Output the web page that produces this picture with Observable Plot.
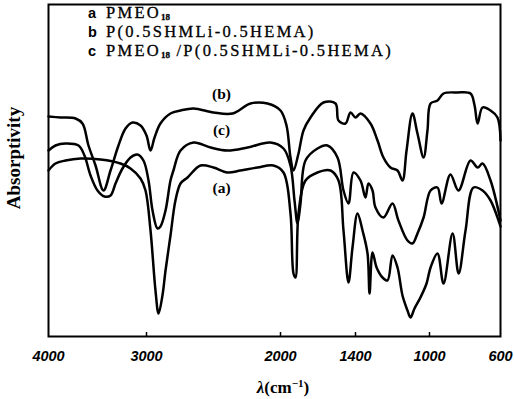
<!DOCTYPE html>
<html><head><meta charset="utf-8">
<script src="https://cdn.jsdelivr.net/npm/d3@7"></script>
<script src="https://cdn.jsdelivr.net/npm/@observablehq/plot@0.6"></script>
<style>body{margin:0;background:#fff} svg{display:block;background:#fff}</style>
</head><body><div id="chart"></div>
<script>
// wavenumbers (cm^-1) and relative absorptivity (arbitrary units)
const wnA = [4000,3929,3827,3673,3469,3265,3163,3061,3010,2970,2933,2910,2881,2858,2821,2784,2746,2694,2597,2500,2396,2299,2172,2052,1976,1920,1896,1880,1856,1800,1704,1600,1536,1496,1456,1424,1389,1362,1335,1324,1308,1286,1254,1227,1200,1173,1146,1119,1103,1081,1049,1016,994,955,921,870,836,797,752,701,656,611,600];
const vA  = [166,173,176,178,177,173,168,158,146,106,46,23,41,66,101,136,153,159,171,169,164,166,169,171,164,123,63,59,123,156,164,166,156,106,54,89,123,106,83,43,84,69,59,56,81,69,41,26,19,28,39,53,69,83,53,103,63,106,149,146,136,116,110];

const wnB = [4000,3878,3724,3653,3592,3520,3439,3367,3286,3214,3143,3061,3000,2970,2940,2896,2821,2746,2649,2500,2358,2224,2097,2000,1952,1920,1896,1856,1816,1760,1656,1560,1536,1480,1440,1400,1373,1319,1281,1249,1211,1173,1146,1124,1092,1065,1032,1011,994,955,921,842,769,746,729,701,656,617,600];
const vB  = [220,219,218,213,191,171,146,166,191,208,214,211,201,186,199,213,223,226,228,224,223,233,233,226,211,179,166,183,206,219,234,233,216,213,224,219,223,213,196,179,169,166,156,186,223,203,179,206,233,236,243,244,243,231,213,229,226,219,196];

const wnC = [4000,3929,3827,3694,3633,3571,3500,3429,3367,3316,3245,3163,3092,3031,2985,2955,2918,2896,2858,2821,2799,2746,2649,2522,2396,2246,2075,1976,1920,1888,1864,1840,1800,1704,1624,1544,1496,1456,1416,1373,1346,1330,1308,1292,1249,1200,1168,1119,1092,1065,1032,994,955,932,882,837,769,729,701,656,600];
const vC  = [186,191,193,191,181,161,146,140,141,153,168,179,182,176,156,126,108,110,126,156,166,186,194,189,186,189,194,188,171,136,113,133,176,188,191,179,146,133,164,156,139,153,146,129,119,133,116,96,93,103,119,146,149,133,162,146,176,169,173,156,116];

const tickValues = [4000,3000,2000,1400,1000,600];
const tickLabels = ["4000","3000","2000","1400","1000","600"];
const innerTicks = [3000,2000,1400,1000];

const curveLabels = ["(b)","(c)","(a)"];
const curveLabelWn = [2440,2440,2440];
const curveLabelV  = [242,206,148];

const legendKeys = ["a","b","c"];
const legendMain = [["PMEO","18",""],["P(0.5SHMLi-0.5HEMA)","",""],["PMEO","18"," /P(0.5SHMLi-0.5HEMA)"]];

const rows = [];
wnA.forEach((w,i)=>rows.push({s:"a",wn:w,v:vA[i]}));
wnB.forEach((w,i)=>rows.push({s:"b",wn:w,v:vB[i]}));
wnC.forEach((w,i)=>rows.push({s:"c",wn:w,v:vC[i]}));

const ticksData = innerTicks.map(t=>({wn:t}));
const tickLabelData = tickValues.map((t,i)=>({wn:t,label:tickLabels[i]}));
const labelData = curveLabels.map((l,i)=>({label:l,wn:curveLabelWn[i],v:curveLabelV[i]}));

const chart = Plot.plot({
  width: 514, height: 399,
  marginLeft: 48, marginRight: 14, marginTop: 4, marginBottom: 63,
  style: {background:"#fff"},
  x: {type:"linear", domain: tickValues, range:[48,146,280,355,429,500], axis:null},
  y: {domain:[0,332], axis:null},
  marks: [
    Plot.line(rows, {x:"wn", y:"v", z:"s", stroke:"#000", strokeWidth:2.5, curve:"catmull-rom"}),
    Plot.ruleX(ticksData, {x:"wn", y1:0, y2:4, stroke:"#000", strokeWidth:1.5}),
    Plot.frame({stroke:"#000", strokeWidth:2}),
    Plot.text(tickLabelData, {x:"wn", y:-20, text:"label", fontSize:14.5, fontWeight:"bold", fontStyle:"italic", fontFamily:"Liberation Sans, Arial, sans-serif", fill:"#000"}),
    Plot.text(labelData, {x:"wn", y:"v", text:"label", fontSize:15.5, fontWeight:"bold", fontFamily:"Liberation Serif, Times New Roman, serif", fill:"#000"})
  ]
});
document.getElementById("chart").appendChild(chart);

const svg = d3.select(chart);
// axis titles
const xt = svg.append("text").attr("x",283).attr("y",393).attr("text-anchor","middle")
  .attr("font-family","Liberation Serif, Times New Roman, serif").attr("font-weight","bold").attr("font-size",17).attr("fill","#000");
xt.append("tspan").attr("font-style","italic").text("λ");
xt.append("tspan").text("(cm");
xt.append("tspan").attr("font-size",11).attr("dy",-6).text("−1");
xt.append("tspan").attr("dy",6).text(")");

svg.append("text").attr("transform","translate(20,158) rotate(-90)").attr("text-anchor","middle")
  .attr("font-family","Liberation Serif, Times New Roman, serif").attr("font-weight","bold").attr("font-size",19).attr("fill","#000")
  .text("Absorptivity");

// legend
const legendY = [18,37,56];
legendKeys.forEach((k,i)=>{
  svg.append("text").attr("x",88).attr("y",legendY[i]).attr("text-anchor","start").attr("font-family","Liberation Sans, Arial, sans-serif")
    .attr("font-weight","bold").attr("font-size",14.5).attr("fill","#000").text(k);
  const t = svg.append("text").attr("x",106).attr("y",legendY[i]).attr("text-anchor","start").attr("font-family","Liberation Serif, Times New Roman, serif")
    .attr("font-size",16.5).attr("letter-spacing",2.3).attr("fill","#000").attr("stroke","#000").attr("stroke-width",0.3);
  const [m, sub, rest] = legendMain[i];
  t.append("tspan").text(m);
  if (sub) t.append("tspan").attr("font-size",9).attr("font-weight","bold").attr("letter-spacing",0).attr("dy",2).text(sub);
  if (rest) t.append("tspan").attr("dy",-2).attr("letter-spacing",2.3).text(rest);
});
</script>
</body></html>
